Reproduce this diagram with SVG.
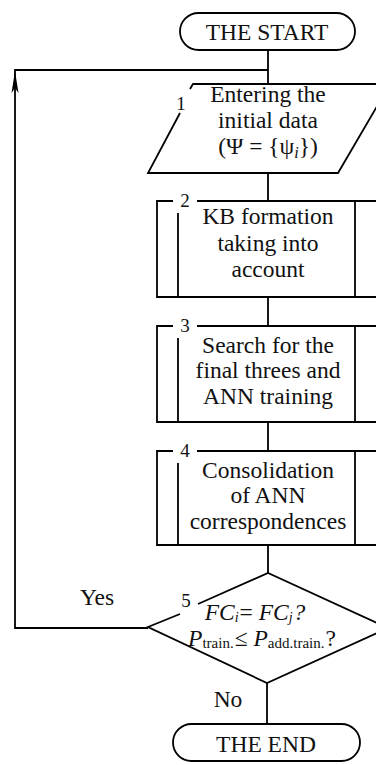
<svg xmlns="http://www.w3.org/2000/svg" width="376" height="765" viewBox="0 0 376 765">
<style>
.s{fill:none;stroke:#000;stroke-width:1.8}
.t{font-family:"Liberation Serif","Times New Roman",serif;font-size:23.5px;fill:#111;text-anchor:middle}
.n{font-family:"Liberation Serif","Times New Roman",serif;font-size:19px;fill:#111;text-anchor:middle}
.i{font-style:italic}
</style>
<rect width="376" height="765" fill="#fff"/>
<g id="connectors">
<path class="s" d="M268,50 L268,84 M268,173 L268,201 M268,297 L268,326 M268,422 L268,451 M268,545 L268,573 M267,683 L267,724"/>
<path class="s" d="M148,628 L15,628 L15,70 L268,70"/>
<polygon points="15,71 11.5,93 15,88 18.5,93" fill="#000"/>
<text class="t" x="97" y="605">Yes</text>
<text class="t" x="228" y="707">No</text>
</g>
<g id="start">
<rect class="s" x="180" y="13" width="175" height="37" rx="18.5"/>
<text class="t" x="267" y="40">THE START</text>
</g>
<g id="n1">
<path class="s" d="M190,89 L193,84 L390,84 L338,173 L148,173 L180,113"/>
<text class="n" x="181" y="110">1</text>
<text class="t" x="268" y="102">Entering the</text>
<text class="t" x="268" y="128">initial data</text>
<text class="t" x="268" y="154">(Ψ = {ψ<tspan class="i" font-size="16" dy="4">i</tspan><tspan dy="-4">})</tspan></text>
</g>
<g id="n2">
<path class="s" d="M173,201 L157,201 L157,297 L400,297 M197,201 L400,201 M178,213 L178,297 M355,201 L355,297"/>
<text class="n" x="185" y="207">2</text>
<text class="t" x="268" y="224">KB formation</text>
<text class="t" x="268" y="251">taking into</text>
<text class="t" x="268" y="277">account</text>
</g>
<g id="n3">
<path class="s" d="M173,326 L157,326 L157,422 L400,422 M197,326 L400,326 M178,338 L178,422 M355,326 L355,422"/>
<text class="n" x="185" y="332">3</text>
<text class="t" x="268" y="353">Search for the</text>
<text class="t" x="268" y="378">final threes and</text>
<text class="t" x="268" y="404">ANN training</text>
</g>
<g id="n4">
<path class="s" d="M173,451 L157,451 L157,545 L400,545 M197,451 L400,451 M178,463 L178,545 M355,451 L355,545"/>
<text class="n" x="185" y="457">4</text>
<text class="t" x="268" y="478">Consolidation</text>
<text class="t" x="268" y="503">of ANN</text>
<text class="t" x="268" y="529">correspondences</text>
</g>
<g id="n5">
<path class="s" d="M180,614 L148,627 L267,683 L388,628 L268,573 L198,604"/>
<text class="n" x="186" y="607">5</text>
<text class="t" x="255" y="620" font-size="20"><tspan class="i">FC</tspan><tspan class="i" font-size="14" dy="2">i</tspan><tspan dx="1" dy="-2">= </tspan><tspan class="i">FC</tspan><tspan class="i" font-size="14" dy="2">j</tspan><tspan class="i" dx="1" dy="-2">?</tspan></text>
<text class="t" x="262" y="646" font-size="21"><tspan class="i">P</tspan><tspan font-size="15" dy="2">train.</tspan><tspan dx="1" dy="-2">≤ </tspan><tspan class="i">P</tspan><tspan font-size="15" dy="2">add.train.</tspan><tspan dx="1" dy="-2">?</tspan></text>
</g>
<g id="end">
<rect class="s" x="173" y="724" width="187" height="37" rx="18.5"/>
<text class="t" x="266" y="752">THE END</text>
</g>
</svg>
